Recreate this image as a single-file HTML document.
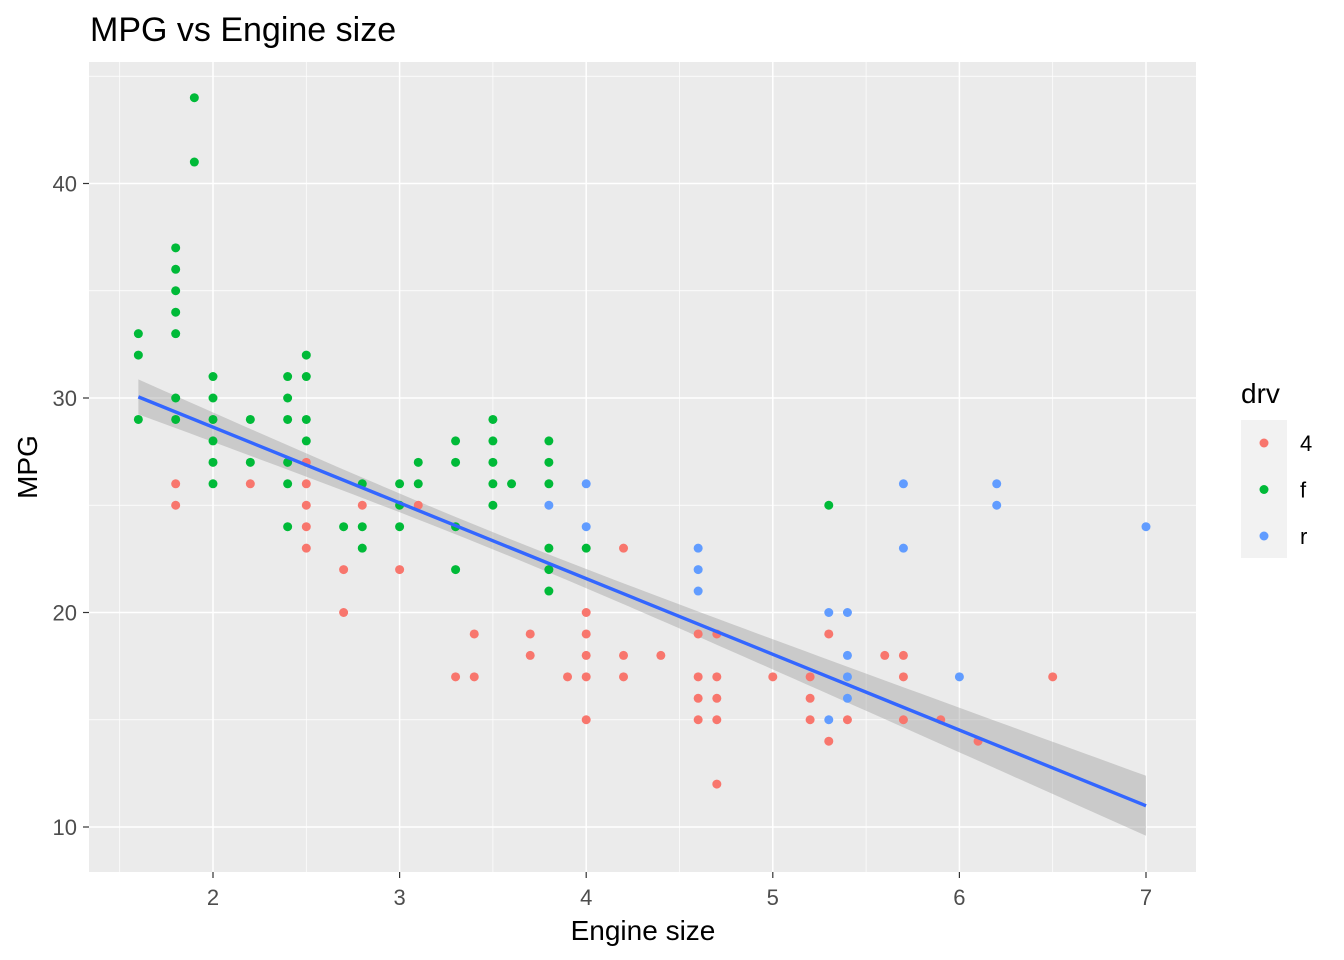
<!DOCTYPE html>
<html><head><meta charset="utf-8">
<style>
html,body{margin:0;padding:0;background:#fff;}
svg{display:block;font-family:"Liberation Sans",Arial,sans-serif;}
</style></head>
<body>
<svg id="chart" width="1344" height="960" viewBox="0 0 1344 960" xmlns="http://www.w3.org/2000/svg">
<rect width="1344" height="960" fill="#fff"/>
<text x="90" y="41" font-size="34" fill="#000">MPG vs Engine size</text>
<rect x="89" y="62" width="1107" height="810" fill="#EBEBEB"/>
<g id="grid"></g>
<g id="band"></g>
<g id="points"></g>
<g id="axes"></g>
<text x="643" y="940" font-size="28" text-anchor="middle" fill="#000">Engine size</text>
<text transform="translate(37,467) rotate(-90)" font-size="28" text-anchor="middle" fill="#000">MPG</text>
<g>
<text x="1241" y="403" font-size="28" fill="#000">drv</text>
<rect x="1241" y="420" width="46" height="138" fill="#F2F2F2"/>
<g id="legend-entries"></g>
</g>
</svg>
<script>
const drvCats = ["4","f","r"];
const colors = ["#F8766D","#00BA38","#619CFF"];
const displ4 = [1.8,1.8,2.2,2.5,2.5,2.5,2.5,2.5,2.7,2.7,2.8,3.0,3.1,3.4,3.4,3.3,3.7,3.7,3.9,4.0,4.0,4.0,4.0,4.0,4.2,4.2,4.2,4.4,4.6,4.6,4.6,4.6,4.7,4.7,4.7,4.7,4.7,5.0,5.2,5.2,5.2,5.3,5.3,5.4,5.6,5.7,5.7,5.7,5.9,6.1,6.5];
const hwy4   = [26,25,26,27,26,25,24,23,22,20,25,22,25,19,17,17,19,18,17,20,19,18,17,15,23,18,17,18,19,17,16,15,19,17,16,15,12,17,17,16,15,19,14,15,18,18,17,15,15,14,17];
const displF = [1.6,1.6,1.6,1.8,1.8,1.8,1.8,1.8,1.8,1.8,1.9,1.9,2.0,2.0,2.0,2.0,2.0,2.0,2.2,2.2,2.4,2.4,2.4,2.4,2.4,2.4,2.5,2.5,2.5,2.5,2.7,2.8,2.8,2.8,3.0,3.0,3.0,3.1,3.1,3.3,3.3,3.3,3.3,3.5,3.5,3.5,3.5,3.5,3.6,3.8,3.8,3.8,3.8,3.8,3.8,4.0,5.3];
const hwyF   = [33,32,29,37,36,35,34,33,30,29,44,41,31,30,29,28,27,26,29,27,31,30,29,27,26,24,32,31,29,28,24,26,24,23,26,25,24,27,26,28,27,24,22,29,28,27,26,25,26,28,27,26,23,22,21,23,25];
const displR = [3.8,4.0,4.0,4.6,4.6,4.6,5.3,5.3,5.4,5.4,5.4,5.4,5.7,5.7,6.0,6.2,6.2,7.0];
const hwyR   = [25,26,24,23,22,21,20,15,20,18,17,16,26,23,17,26,25,24];
const fitIntercept = [35.7];
const fitSlope = [-3.53];
const fitXRange = [1.6, 7.0];
const ciCenter = [3.47];
const ciVarAtCenter = [0.16];
const ciVarSlope = [0.144];
const xTicks = [2,3,4,5,6,7];
const yTicks = [10,20,30,40];
const xMinor = [1.5,2.5,3.5,4.5,5.5,6.5];
const yMinor = [15,25,35,45];

const NS="http://www.w3.org/2000/svg";
const X = v => 213 + (v-2)*186.6;
const Y = v => 827 - (v-10)*21.45;
function mk(tag, attrs, parent){const e=document.createElementNS(NS,tag);for(const k in attrs)e.setAttribute(k,attrs[k]);parent.appendChild(e);return e;}
const grid=document.getElementById('grid');
xMinor.forEach(v=>{const l=mk('line',{x1:X(v),x2:X(v),y1:62,y2:872,stroke:'#fff','stroke-width':0.7},grid);

});
yMinor.forEach(v=>{const l=mk('line',{x1:89,x2:1196,y1:Y(v),y2:Y(v),stroke:'#fff','stroke-width':0.7},grid);

});
xTicks.forEach(v=>{const l=mk('line',{x1:X(v),x2:X(v),y1:62,y2:872,stroke:'#fff','stroke-width':1.5},grid);

});
yTicks.forEach(v=>{const l=mk('line',{x1:89,x2:1196,y1:Y(v),y2:Y(v),stroke:'#fff','stroke-width':1.5},grid);

});

const axes=document.getElementById('axes');
xTicks.forEach(v=>{mk('line',{x1:X(v),x2:X(v),y1:872,y2:878,stroke:'#333','stroke-width':1.2},axes);
const t=mk('text',{x:X(v),y:905,'font-size':22,'text-anchor':'middle',fill:'#4D4D4D'},axes);t.textContent=v;

});
yTicks.forEach(v=>{mk('line',{x1:83,x2:89,y1:Y(v),y2:Y(v),stroke:'#333','stroke-width':1.2},axes);
const t=mk('text',{x:77,y:Y(v)+8,'font-size':22,'text-anchor':'end',fill:'#4D4D4D'},axes);t.textContent=v;

});

const pts=document.getElementById('points');
[[displ4,hwy4],[displF,hwyF],[displR,hwyR]].forEach((s,i)=>{
  s[0].forEach((d,j)=>{const c=mk('circle',{cx:X(d),cy:Y(s[1][j]),r:4.5,fill:colors[i]},pts);
  
  });
});

const band=document.getElementById('band');
const fit=x=>fitIntercept[0]+fitSlope[0]*x;
const half=x=>Math.sqrt(ciVarAtCenter[0]+ciVarSlope[0]*(x-ciCenter[0])**2);
let up=[],lo=[];
for(let k=0;k<=80;k++){const x=fitXRange[0]+(fitXRange[1]-fitXRange[0])*k/80;
up.push(X(x)+','+Y(fit(x)+half(x)));lo.unshift(X(x)+','+Y(fit(x)-half(x)));}
const poly=mk('polygon',{points:up.concat(lo).join(' '),fill:'#999',opacity:0.4},band);


const ln=mk('line',{x1:X(fitXRange[0]),y1:Y(fit(fitXRange[0])),x2:X(fitXRange[1]),y2:Y(fit(fitXRange[1])),stroke:'#3366FF','stroke-width':3.4},document.getElementById('chart'));



const le=document.getElementById('legend-entries');
drvCats.forEach((c,i)=>{const cy=443+i*46.5;
const g=mk('g',{},le);


mk('circle',{cx:1264,cy:cy,r:4.5,fill:colors[i]},g);
const t=mk('text',{x:1300,y:cy+8,'font-size':22,fill:'#000'},g);t.textContent=c;});
</script>
</body></html>
